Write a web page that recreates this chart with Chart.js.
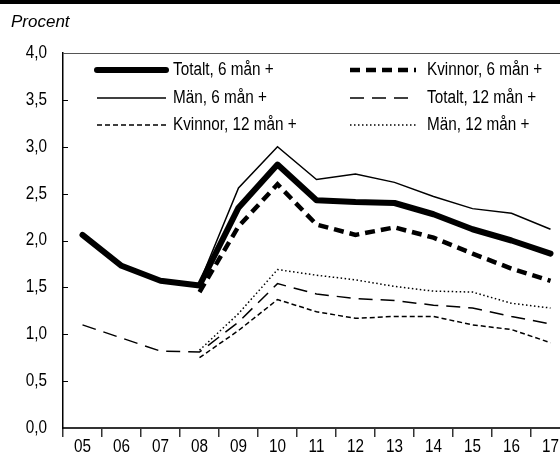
<!DOCTYPE html>
<html>
<head>
<meta charset="utf-8">
<script src="https://cdn.jsdelivr.net/npm/chart.js@4"></script>
<style>
  html, body { margin: 0; padding: 0; background: #fff; overflow: hidden; }
  #wrap { width: 575px; height: 459px; }
</style>
</head>
<body>
<div id="wrap"><canvas id="myChart" width="575" height="459"></canvas></div>
<script>
const years = ['05', '06', '07', '08', '09', '10', '11', '12', '13', '14', '15', '16', '17'];

const totalt6 = [2.06, 1.73, 1.57, 1.52, 2.35, 2.81, 2.43, 2.41, 2.40, 2.28, 2.12, 2.00, 1.86];
const kvinnor6 = [null, null, null, 1.45, 2.15, 2.60, 2.17, 2.06, 2.14, 2.03, 1.86, 1.70, 1.57];
const man6 = [null, null, null, 1.55, 2.56, 3.00, 2.65, 2.71, 2.62, 2.47, 2.34, 2.29, 2.12];
const totalt12 = [1.10, 0.96, 0.82, 0.81, 1.13, 1.54, 1.43, 1.38, 1.36, 1.31, 1.28, 1.19, 1.11];
const kvinnor12 = [null, null, null, 0.75, 1.04, 1.37, 1.24, 1.17, 1.19, 1.19, 1.10, 1.05, 0.91];
const man12 = [null, null, null, 0.83, 1.22, 1.69, 1.63, 1.58, 1.51, 1.46, 1.45, 1.33, 1.28];

const yTicks = ['0,0', '0,5', '1,0', '1,5', '2,0', '2,5', '3,0', '3,5', '4,0'];

const FONT = '18px "Liberation Sans", sans-serif';
const SQUEEZE = 0.85; // fake a condensed face

function narrowText(c, text, x, y, align) {
  c.save();
  c.translate(x, y);
  c.scale(SQUEEZE, 1);
  c.font = FONT;
  c.fillStyle = '#000';
  c.textAlign = align;
  c.textBaseline = 'middle';
  c.fillText(text, 0, 0);
  c.restore();
}

// legend is drawn by hand so the two columns line up
const legendPlugin = {
  id: 'manualLegend',
  afterDraw(chart) {
    const c = chart.ctx;
    const cols = [{ x0: 97, x1: 166, tx: 173 }, { x0: 350, x1: 416, tx: 427 }];
    const rows = [70, 98, 125];
    chart.data.datasets.forEach((ds, i) => {
      const col = cols[i % 2];
      const y = rows[Math.floor(i / 2)];
      c.save();
      c.strokeStyle = ds.borderColor;
      c.lineWidth = ds.borderWidth;
      c.lineCap = ds.borderCapStyle || 'butt';
      c.setLineDash(ds.borderDash || []);
      c.beginPath();
      c.moveTo(col.x0, y);
      c.lineTo(col.x1, y);
      c.stroke();
      c.restore();
      narrowText(c, ds.label, col.tx, y, 'left');
    });
  }
};

const framePlugin = {
  id: 'frame',
  afterDraw(chart) {
    const c = chart.ctx;
    const area = chart.chartArea;
    const xScale = chart.scales.x;
    const yScale = chart.scales.y;
    c.save();
    // black bar at the very top
    c.fillStyle = '#000';
    c.fillRect(0, 0, chart.width, 4);
    // top border line of plot
    c.strokeStyle = '#555';
    c.lineWidth = 1;
    c.beginPath();
    c.moveTo(area.left, area.top + 0.5);
    c.lineTo(chart.width, area.top + 0.5);
    c.stroke();
    // inward ticks on y axis
    c.strokeStyle = '#000';
    c.lineWidth = 1;
    for (let v = 0.5; v < 4; v += 0.5) {
      const py = Math.round(yScale.getPixelForValue(v)) + 0.5;
      c.beginPath();
      c.moveTo(area.left, py);
      c.lineTo(area.left + 5, py);
      c.stroke();
    }
    // y-axis title
    c.fillStyle = '#000';
    c.font = 'italic 17px "Liberation Sans", sans-serif';
    c.textBaseline = 'middle';
    c.fillText('Procent', 11, 22);
    c.restore();

    // tick labels, squeezed
    yScale.ticks.forEach((t, i) => {
      narrowText(c, yTicks[Math.round(t.value * 2)], area.left - 16, yScale.getPixelForTick(i), 'right');
    });
    xScale.ticks.forEach((t, i) => {
      narrowText(c, years[t.value], xScale.getPixelForTick(i), 447, 'center');
    });
  }
};

const ctx = document.getElementById('myChart');

new Chart(ctx, {
  type: 'line',
  data: {
    labels: years,
    datasets: [
      { label: 'Totalt, 6 mån +', data: totalt6, borderColor: '#000', borderWidth: 6, borderCapStyle: 'round', borderJoinStyle: 'round' },
      { label: 'Kvinnor, 6 mån +', data: kvinnor6, borderColor: '#000', borderWidth: 4.5, borderDash: [10, 6] },
      { label: 'Män, 6 mån +', data: man6, borderColor: '#000', borderWidth: 1.5 },
      { label: 'Totalt, 12 mån +', data: totalt12, borderColor: '#000', borderWidth: 1.5, borderDash: [14, 8] },
      { label: 'Kvinnor, 12 mån +', data: kvinnor12, borderColor: '#000', borderWidth: 1.5, borderDash: [5, 3] },
      { label: 'Män, 12 mån +', data: man12, borderColor: '#000', borderWidth: 1.5, borderDash: [1.5, 2.5] }
    ]
  },
  options: {
    responsive: false,
    animation: false,
    layout: { padding: { top: 53, right: 5, left: 0, bottom: 0 } },
    elements: { point: { radius: 0 }, line: { tension: 0 } },
    plugins: { legend: { display: false }, tooltip: { enabled: false } },
    scales: {
      x: {
        offset: true,
        grid: { offset: true, drawOnChartArea: false, tickLength: 9, color: '#333', lineWidth: 1.5 },
        border: { color: '#333', width: 2 },
        ticks: { color: 'rgba(0,0,0,0)', font: { size: 18 }, padding: 1, maxRotation: 0, autoSkip: false },
        afterFit(scale) { scale.height = 31; }
      },
      y: {
        min: 0,
        max: 4,
        grid: { display: false },
        border: { color: '#000', width: 1.5 },
        ticks: { stepSize: 0.5, color: 'rgba(0,0,0,0)', font: { size: 18 }, padding: 16 },
        afterFit(scale) { scale.width = 63; }
      }
    }
  },
  plugins: [legendPlugin, framePlugin]
});
</script>
</body>
</html>
